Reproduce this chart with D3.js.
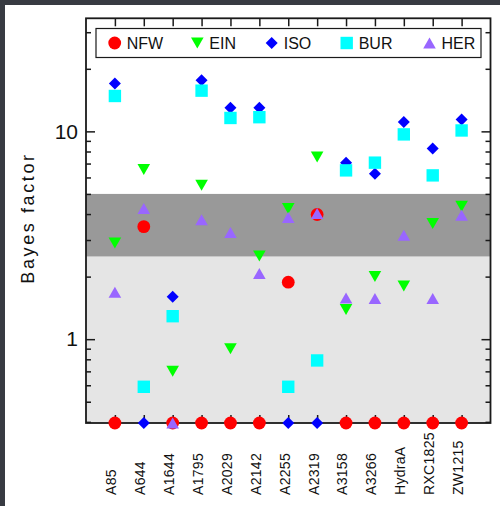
<!DOCTYPE html>
<html>
<head>
<meta charset="utf-8">
<script src="https://cdn.jsdelivr.net/npm/d3@7"></script>
<style>
  html, body { margin: 0; padding: 0; background: #fff; }
  svg { display: block; }
  text { font-family: "Liberation Sans", Arial, sans-serif; fill: #111; }
</style>
</head>
<body>
<svg id="chart" width="500" height="506"></svg>
<script>
// Clusters along the x axis
const clusters = ["A85", "A644", "A1644", "A1795", "A2029", "A2142", "A2255",
                  "A2319", "A3158", "A3266", "HydraA", "RXC1825", "ZW1215"];

// Bayes factor per mass model; 0.3 marks values below the plotted floor
// (these sit on the lower axis).
const nfw = [0.3, 3.48, 0.3, 0.3, 0.3, 0.3, 1.88, 3.98, 0.3, 0.3, 0.3, 0.3, 0.3];
const ein = [2.90, 6.55, 0.70, 5.50, 0.90, 2.51, 4.25, 7.53, 1.39, 2.00, 1.80, 3.60, 4.36];
const iso = [17.0, 0.3, 1.60, 17.6, 13.0, 13.0, 0.3, 0.3, 7.07, 6.26, 11.1, 8.26, 11.4];
const bur = [14.8, 0.59, 1.29, 15.7, 11.6, 11.7, 0.59, 0.79, 6.49, 7.07, 9.67, 6.14, 10.1];
const her = [1.68, 4.25, 0.3, 3.76, 3.26, 2.07, 3.85, 4.02, 1.58, 1.57, 3.16, 1.57, 3.95];

const seriesNames = ["NFW", "EIN", "ISO", "BUR", "HER"];

// Shaded evidence bands
const strongBand = [2.5, 5];
const yDomain = [0.395, 35];
const majorTicks = [1, 10];
const minorTicks = [0.4, 0.5, 0.6, 0.7, 0.8, 0.9, 2, 3, 4, 5, 6, 7, 8, 9, 20, 30];

(function draw() {
  const svg = d3.select("#chart");

  // Window frame strips
  svg.append("rect").attr("x", 0).attr("y", 0).attr("width", 500).attr("height", 5).attr("fill", "#383b42");
  svg.append("rect").attr("x", 0).attr("y", 0).attr("width", 5).attr("height", 506).attr("fill", "#383b42");

  const pl = 86, pr = 490.5, pt = 18.3, pb = 423;

  const x = d3.scaleLinear().domain([-1, clusters.length]).range([pl, pr]);
  const y = d3.scaleLog().domain(yDomain).range([pb, pt]).clamp(true);

  // Background bands
  svg.append("rect")
    .attr("x", pl).attr("width", pr - pl)
    .attr("y", y(strongBand[0])).attr("height", pb - y(strongBand[0]))
    .attr("fill", "#e5e5e5");
  svg.append("rect")
    .attr("x", pl).attr("width", pr - pl)
    .attr("y", y(strongBand[1])).attr("height", y(strongBand[0]) - y(strongBand[1]))
    .attr("fill", "#999999");

  // Axes with inward ticks
  const axisColor = "#1a1a1a";
  function styleAxis(g) {
    g.select(".domain").remove();
    g.selectAll(".tick line").attr("stroke", axisColor).attr("stroke-width", 1.5);
  }

  const idx = d3.range(clusters.length);

  svg.append("g").attr("transform", `translate(0,${pt})`)
    .call(d3.axisTop(x).tickValues(idx).tickSize(-8).tickFormat(""))
    .call(styleAxis);

  const xb = svg.append("g").attr("transform", `translate(0,${pb})`)
    .call(d3.axisBottom(x).tickValues(idx).tickSize(-8).tickFormat(i => clusters[i]))
    .call(styleAxis);
  xb.selectAll(".tick text")
    .attr("transform", "translate(-4,72) rotate(-90)")
    .attr("x", 0).attr("y", 0).attr("dy", "0.35em")
    .attr("text-anchor", "start")
    .style("font-size", "14px")
    .style("letter-spacing", "0.3px")
    .style("font-family", "'Liberation Sans', Arial, sans-serif")
    .attr("fill", "#111");

  svg.append("g").attr("transform", `translate(${pl},0)`)
    .call(d3.axisLeft(y).tickValues(majorTicks).tickSize(-9).tickPadding(8).tickFormat(d3.format("d")))
    .call(styleAxis)
    .call(g => g.selectAll(".tick text")
      .style("font-size", "21px")
      .style("font-family", "'Liberation Sans', Arial, sans-serif")
      .attr("fill", "#111"));
  svg.append("g").attr("transform", `translate(${pl},0)`)
    .call(d3.axisLeft(y).tickValues(minorTicks).tickSize(-5).tickFormat(""))
    .call(styleAxis);
  svg.append("g").attr("transform", `translate(${pr},0)`)
    .call(d3.axisRight(y).tickValues(majorTicks).tickSize(-9).tickFormat(""))
    .call(styleAxis);
  svg.append("g").attr("transform", `translate(${pr},0)`)
    .call(d3.axisRight(y).tickValues(minorTicks).tickSize(-5).tickFormat(""))
    .call(styleAxis);

  // Plot frame
  svg.append("rect")
    .attr("x", pl).attr("y", pt)
    .attr("width", pr - pl).attr("height", pb - pt)
    .attr("fill", "none").attr("stroke", axisColor).attr("stroke-width", 1.8);

  // Axis title
  svg.append("text")
    .attr("transform", "translate(34,218) rotate(-90)")
    .attr("text-anchor", "middle")
    .style("font-size", "18px")
    .style("letter-spacing", "2.6px")
    .attr("fill", "#111")
    .text("Bayes factor");

  // Marker shapes
  const shapes = {
    circle: () => d3.symbol(d3.symbolCircle, Math.PI * 6.4 * 6.4)(),
    triDown: () => "M-6.3,-5.5L6.3,-5.5L0,5.5Z",
    diamond: () => "M0,-6L6,0L0,6L-6,0Z",
    square: () => "M-6.2,-6.2H6.2V6.2H-6.2Z",
    triUp: () => "M0,-5.5L6.3,5.5L-6.3,5.5Z"
  };

  const series = [
    { name: seriesNames[0], values: nfw, shape: "circle", color: "#ff0000" },
    { name: seriesNames[1], values: ein, shape: "triDown", color: "#00ff00" },
    { name: seriesNames[2], values: iso, shape: "diamond", color: "#0000ff" },
    { name: seriesNames[3], values: bur, shape: "square", color: "#00ffff" },
    { name: seriesNames[4], values: her, shape: "triUp", color: "#9966ff" }
  ];

  series.forEach(s => {
    svg.append("g")
      .selectAll("path")
      .data(s.values)
      .join("path")
      .attr("transform", (v, i) => `translate(${x(i)},${y(v)})`)
      .attr("d", shapes[s.shape])
      .attr("fill", s.color);
  });

  // Legend
  const legend = svg.append("g");
  legend.append("rect")
    .attr("x", 96).attr("y", 28.5).attr("width", 385).attr("height", 29)
    .attr("fill", "#fff").attr("stroke", axisColor).attr("stroke-width", 1.2);
  const legendX = [114.7, 197.3, 271.7, 346.7, 429.5];
  series.forEach((s, k) => {
    legend.append("path")
      .attr("transform", `translate(${legendX[k]},43)`)
      .attr("d", shapes[s.shape]())
      .attr("fill", s.color);
    legend.append("text")
      .attr("x", legendX[k] + 12).attr("y", 48.5)
      .style("font-size", "16px")
      .attr("fill", "#111")
      .text(s.name);
  });
})();
</script>
</body>
</html>
